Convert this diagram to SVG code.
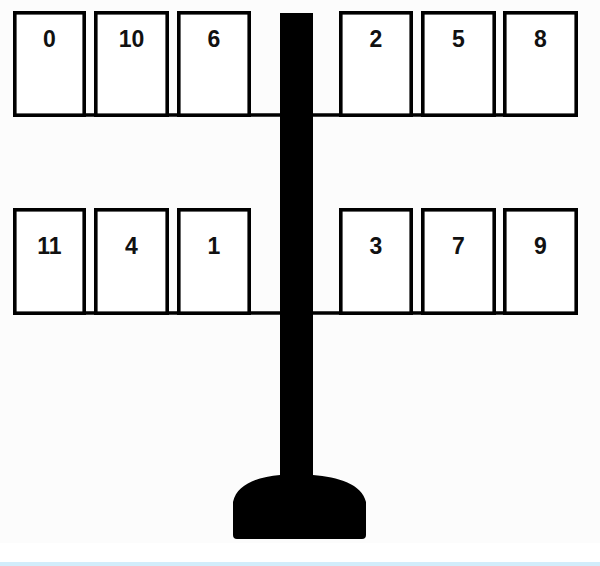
<svg xmlns="http://www.w3.org/2000/svg" width="600" height="566" viewBox="0 0 600 566">
  <style>
    .box { fill: #ffffff; stroke: #000000; stroke-width: 3.6; }
    .lbl { font-family: "Liberation Sans", Arial, sans-serif; font-weight: bold; font-size: 23px; fill: #111111; text-anchor: middle; }
    .shelf { stroke: #000000; stroke-width: 3.6; fill: none; }
  </style>
  <rect x="0" y="0" width="600" height="566" fill="#ffffff"/>
  <rect x="0" y="0" width="600" height="543" fill="#fcfcfc"/>
  <rect x="0" y="562" width="600" height="4" fill="#d2edfb"/>

  <g id="connectors">
    <line class="shelf" x1="13" y1="115" x2="578" y2="115"/>
    <line class="shelf" x1="13" y1="313" x2="578" y2="313"/>
  </g>

  <g id="stand">
    <path d="M 280 13 H 313 V 475 C 338 477 362 484 366 502 V 535 Q 366 539 362 539 H 237 Q 233 539 233 535 V 502 C 237 484 258 477 280 475 Z" fill="#000000"/>
  </g>

  <g id="node-0"><rect class="box" x="14.8" y="12.8" width="69.4" height="102.4"/><text class="lbl" x="49.5" y="47">0</text></g>
  <g id="node-10"><rect class="box" x="95.8" y="12.8" width="71.4" height="102.4"/><text class="lbl" x="131.5" y="47">10</text></g>
  <g id="node-6"><rect class="box" x="178.8" y="12.8" width="70.4" height="102.4"/><text class="lbl" x="214" y="47">6</text></g>
  <g id="node-2"><rect class="box" x="340.8" y="12.8" width="70.4" height="102.4"/><text class="lbl" x="376" y="47">2</text></g>
  <g id="node-5"><rect class="box" x="422.8" y="12.8" width="71.4" height="102.4"/><text class="lbl" x="458.5" y="47">5</text></g>
  <g id="node-8"><rect class="box" x="504.8" y="12.8" width="71.4" height="102.4"/><text class="lbl" x="540.5" y="47">8</text></g>

  <g id="node-11"><rect class="box" x="14.8" y="209.8" width="69.4" height="103.4"/><text class="lbl" x="49.5" y="254">11</text></g>
  <g id="node-4"><rect class="box" x="95.8" y="209.8" width="71.4" height="103.4"/><text class="lbl" x="131.5" y="254">4</text></g>
  <g id="node-1"><rect class="box" x="178.8" y="209.8" width="70.4" height="103.4"/><text class="lbl" x="214" y="254">1</text></g>
  <g id="node-3"><rect class="box" x="340.8" y="209.8" width="70.4" height="103.4"/><text class="lbl" x="376" y="254">3</text></g>
  <g id="node-7"><rect class="box" x="422.8" y="209.8" width="71.4" height="103.4"/><text class="lbl" x="458.5" y="254">7</text></g>
  <g id="node-9"><rect class="box" x="504.8" y="209.8" width="71.4" height="103.4"/><text class="lbl" x="540.5" y="254">9</text></g>
</svg>
